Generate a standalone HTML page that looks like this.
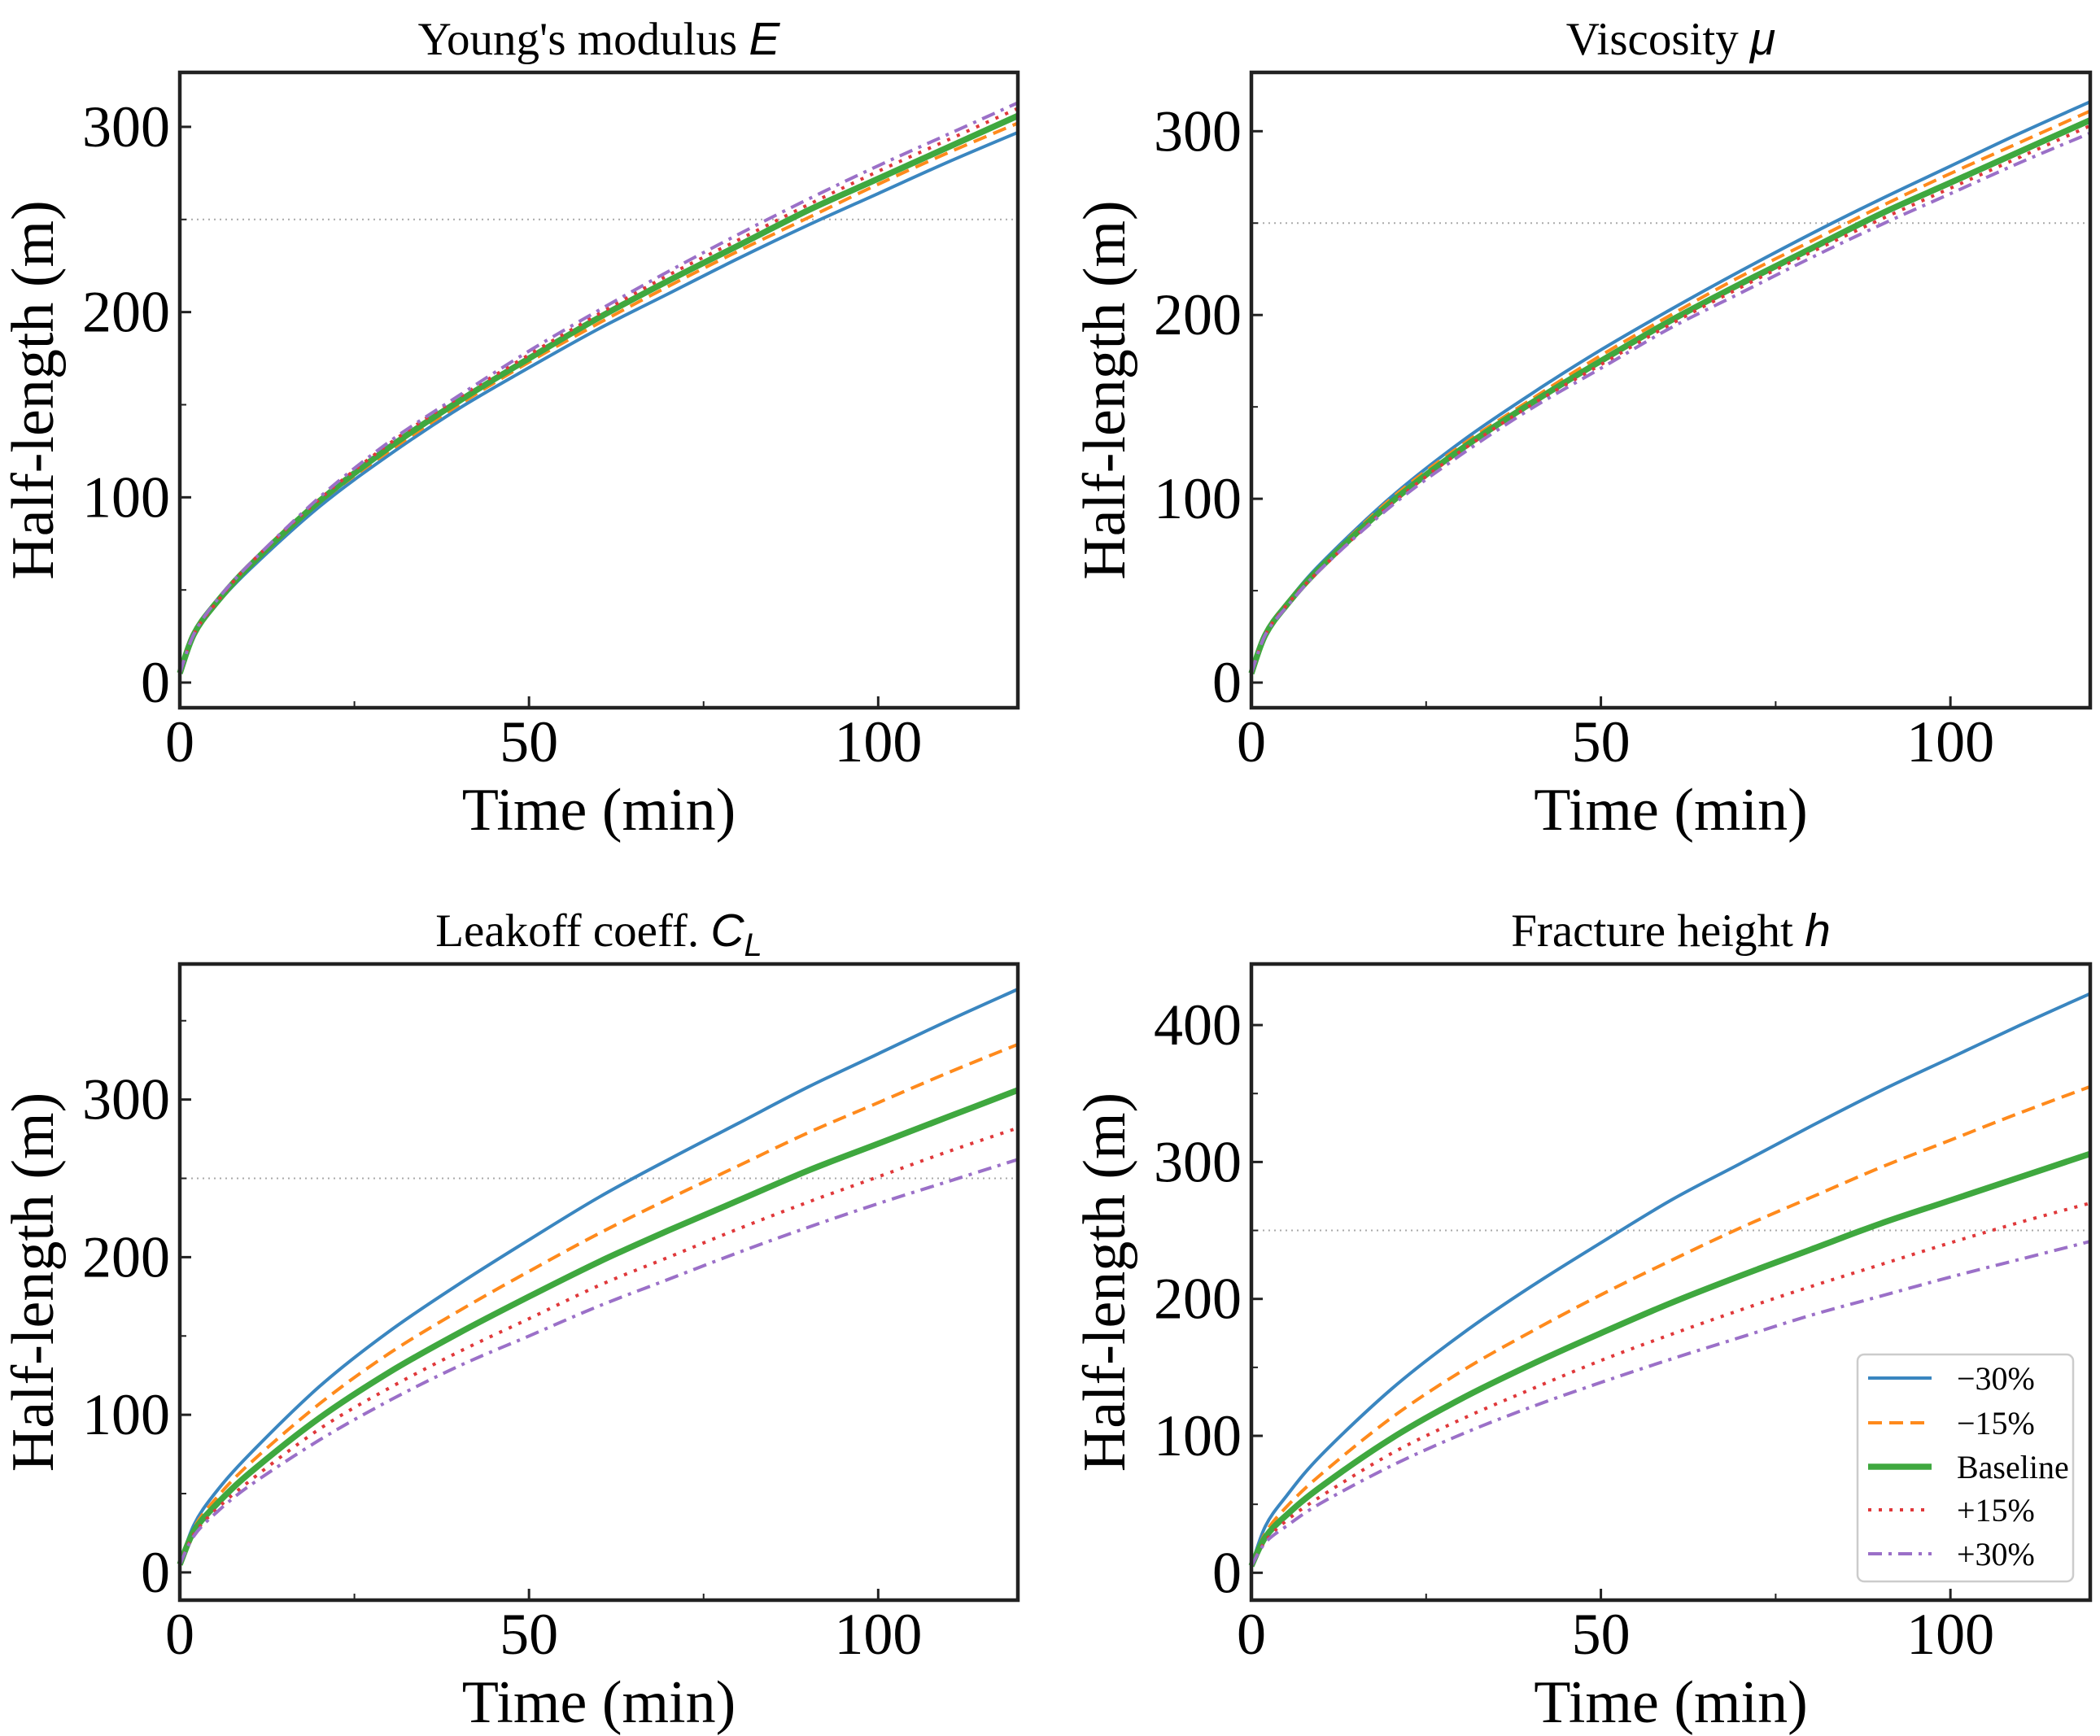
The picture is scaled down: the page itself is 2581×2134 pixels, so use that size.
<!DOCTYPE html>
<html><head><meta charset="utf-8"><style>
html,body{margin:0;padding:0;background:#fff;}
svg{display:block;}
text{font-family:"Liberation Serif",serif;fill:#000;}
</style></head><body>
<svg id="fig" width="2581" height="2134" viewBox="0 0 2581 2134" xmlns="http://www.w3.org/2000/svg"></svg>
<script>
const times = [0,2,5,10,20,30,40,50,60,70,80,90,100,110,120];
const seriesLabels = ["\u221230%","\u221215%","Baseline","+15%","+30%"];
// Young's modulus
const eM30 = [5,25,41,61,95,123,148,170,191,210,229,247,264,281,297];
const eM15 = [5,26,42,62,97,125,150,173,194,214,233,251,269,286,302];
const eBase = [5,26,42,63,98,127,152,175,197,217,236,255,272,289,306];
const eP15 = [5,26,42,64,99,129,154,177,199,220,239,258,276,293,310];
const eP30 = [5,26,43,64,100,130,155,179,201,222,242,261,279,296,313];
// Viscosity
const vM30 = [5,27,43,65,101,131,157,181,203,224,244,263,281,299,316];
const vM15 = [5,26,43,64,100,129,154,178,200,221,240,259,277,294,311];
const vBase = [5,26,42,63,98,127,152,175,197,217,236,255,272,289,306];
const vP15 = [5,26,42,62,97,126,151,173,195,215,234,252,269,286,303];
const vP30 = [5,26,41,62,96,124,149,171,193,212,231,249,266,283,299];
// Leakoff
const cM30 = [5,30,50,75,118,153,183,211,238,262,285,308,329,350,370];
const cM15 = [5,28,46,69,107,139,166,191,215,237,258,279,298,317,335];
const cBase = [5,26,42,63,98,127,152,175,197,217,236,255,272,289,306];
const cP15 = [5,24,39,58,91,117,140,161,182,200,218,235,251,267,282];
const cP30 = [5,23,37,55,84,109,131,150,169,186,203,219,234,248,262];
// Fracture height
const hM30 = [5,34,56,86,134,174,209,241,272,299,326,352,376,400,423];
const hM15 = [5,29,48,72,113,147,176,203,228,252,274,296,316,336,355];
const hBase = [5,26,42,63,98,127,152,175,197,217,236,255,272,289,306];
const hP15 = [5,23,38,56,87,112,134,155,174,192,209,225,241,256,270];
const hP30 = [5,22,34,51,78,101,121,139,156,172,188,202,216,229,242];
const xTicks = [0,50,100];
const yTicksTop = [0,100,200,300];
const yTicksBL = [0,100,200,300];
const yTicksBR = [0,100,200,300,400];
const refLine = 250;

const NS="http://www.w3.org/2000/svg";
const svg=document.getElementById('fig');
function mk(tag,attrs,parent){const e=document.createElementNS(NS,tag);for(const k in attrs)e.setAttribute(k,attrs[k]);(parent||svg).appendChild(e);return e;}
function smooth(P){
 let d='M'+P[0][0].toFixed(1)+','+P[0][1].toFixed(1);
 for(let i=0;i<P.length-1;i++){
  const p0=P[Math.max(0,i-1)],p1=P[i],p2=P[i+1],p3=P[Math.min(P.length-1,i+2)];
  const c1=[p1[0]+(p2[0]-p0[0])/6,p1[1]+(p2[1]-p0[1])/6];
  const c2=[p2[0]-(p3[0]-p1[0])/6,p2[1]-(p3[1]-p1[1])/6];
  d+=' C'+c1[0].toFixed(1)+','+c1[1].toFixed(1)+' '+c2[0].toFixed(1)+','+c2[1].toFixed(1)+' '+p2[0].toFixed(1)+','+p2[1].toFixed(1);
 }
 return d;
}
const styles=[
 {c:'#3a86c0',w:4,d:''},
 {c:'#ff8a1c',w:4,d:'17 9'},
 {c:'#3fa83f',w:7.5,d:''},
 {c:'#e0383a',w:4,d:'4 9'},
 {c:'#9b70c8',w:4,d:'17 8 4 8'}
];
const panels=[
 {name:'youngs-modulus',title:"Young's modulus ",sym:'E',sub:'',x0:221,x1:1251,y0:89,y1:870,ymin:-13.6,ymax:329.4,yt:yTicksTop,ym:[50,150,250],s:[eM30,eM15,eBase,eP15,eP30]},
 {name:'viscosity',title:'Viscosity ',sym:'\u03bc',sub:'',x0:1538,x1:2569,y0:89,y1:870,ymin:-13.7,ymax:332,yt:yTicksTop,ym:[50,150,250],s:[vM30,vM15,vBase,vP15,vP30]},
 {name:'leakoff-coeff',title:'Leakoff coeff. ',sym:'C',sub:'L',x0:221,x1:1251,y0:1185,y1:1967,ymin:-17.6,ymax:386,yt:yTicksBL,ym:[50,150,250,350],s:[cM30,cM15,cBase,cP15,cP30]},
 {name:'fracture-height',title:'Fracture height ',sym:'h',sub:'',x0:1538,x1:2569,y0:1185,y1:1967,ymin:-20,ymax:444.6,yt:yTicksBR,ym:[50,150,250,350],s:[hM30,hM15,hBase,hP15,hP30],legend:true}
];
panels.forEach(p=>{
 const g=mk('g',{});
 
 
 const X=v=>p.x0+(v-0)/(120-0)*(p.x1-p.x0);
 const Y=v=>p.y1-(v-p.ymin)/(p.ymax-p.ymin)*(p.y1-p.y0);
 const cx=(p.x0+p.x1)/2;
 const rl=mk('line',{x1:p.x0,x2:p.x1,y1:Y(refLine),y2:Y(refLine),stroke:'#aaa','stroke-width':2,'stroke-dasharray':'2 5'},g);
 
 
 p.s.forEach((arr,i)=>{
  const st=styles[i];
  const P=arr.map((v,j)=>[X(times[j]),Y(v)]);
  const pl=mk('path',{d:smooth(P),fill:'none',stroke:st.c,'stroke-width':st.w,'stroke-linejoin':'round'},g);
  if(st.d)pl.setAttribute('stroke-dasharray',st.d);
  
  
 });
 const fr=mk('rect',{x:p.x0,y:p.y0,width:p.x1-p.x0,height:p.y1-p.y0,fill:'none',stroke:'#222','stroke-width':4.5},g);
 
 
 xTicks.forEach(t=>{
  mk('line',{x1:X(t),x2:X(t),y1:p.y1,y2:p.y1-14,stroke:'#222','stroke-width':3},g);
  const tx=mk('text',{x:X(t),y:p.y1+66,'font-size':72,'text-anchor':'middle'},g);
  tx.textContent=t;
  
  
 });
 [25,75].forEach(t=>mk('line',{x1:X(t),x2:X(t),y1:p.y1,y2:p.y1-8,stroke:'#222','stroke-width':2},g));
 p.yt.forEach(t=>{
  mk('line',{x1:p.x0,x2:p.x0+14,y1:Y(t),y2:Y(t),stroke:'#222','stroke-width':3},g);
  const tx=mk('text',{x:p.x0-12,y:Y(t)+24,'font-size':72,'text-anchor':'end'},g);
  tx.textContent=t;
  
  
 });
 p.ym.forEach(t=>mk('line',{x1:p.x0,x2:p.x0+8,y1:Y(t),y2:Y(t),stroke:'#222','stroke-width':2},g));
 const xl=mk('text',{x:cx,y:p.y1+150,'font-size':74,'text-anchor':'middle'},g);
 xl.textContent='Time (min)';
 
 
 const ly=(p.y0+p.y1)/2;
 const lx=p.x0-156;
 const yl=mk('text',{x:lx,y:ly,'font-size':74,'text-anchor':'middle',transform:'rotate(-90 '+lx+' '+ly+')'},g);
 yl.textContent='Half-length (m)';
 
 
 const ti=mk('text',{x:cx,y:p.y0-22,'font-size':57,'text-anchor':'middle'},g);
 
 
 const t1=mk('tspan',{},ti);t1.textContent=p.title;
 const t2=mk('tspan',{'font-family':'Liberation Sans, sans-serif','font-style':'italic'},ti);t2.textContent=p.sym;
 if(p.sub){const t3=mk('tspan',{'font-family':'Liberation Sans, sans-serif','font-style':'italic','font-size':40,dy:12},ti);t3.textContent=p.sub;}
 if(p.legend){
  const lg=mk('g',{},g);
  
  
  mk('rect',{x:2283,y:1665,width:265,height:279,rx:8,fill:'#fff','fill-opacity':0.85,stroke:'#ccc','stroke-width':2.5},lg);
  const ys=[1694,1749,1803,1856,1910];
  seriesLabels.forEach((lab,i)=>{
   const st=styles[i];
   const e=mk('g',{},lg);
   
   
   const ln=mk('line',{x1:2296,x2:2374,y1:ys[i],y2:ys[i],stroke:st.c,'stroke-width':st.w},e);
   if(st.d)ln.setAttribute('stroke-dasharray',st.d);
   const tx=mk('text',{x:2405,y:ys[i]+14,'font-size':40},e);
   tx.textContent=lab;
  });
 }
});
</script>
</body></html>
